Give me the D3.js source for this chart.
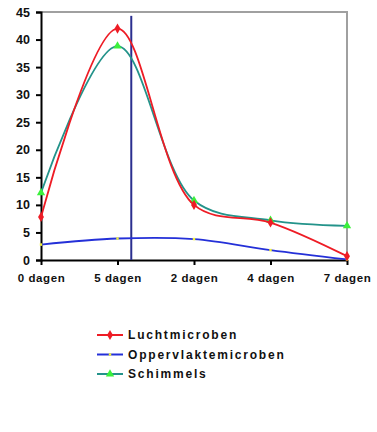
<!DOCTYPE html>
<html>
<head>
<meta charset="utf-8">
<script src="https://cdn.jsdelivr.net/npm/d3@7"></script>
<style>
  body { margin: 0; background: #fff; }
  text { font-family: "Liberation Sans", Arial, sans-serif; font-weight: bold; }
</style>
</head>
<body>
<div id="chart"></div>
<script>
// Data
const categories = ["0 dagen", "5 dagen", "2 dagen", "4 dagen", "7 dagen"];
const luchtmicroben = [7.8, 42, 10, 6.8, 0.7];
const oppervlaktemicroben = [2.8, 3.9, 3.8, 1.8, 0.1];
const schimmels = [12.2, 38.8, 10.8, 7.2, 6.2];
const yTicks = [0, 5, 10, 15, 20, 25, 30, 35, 40, 45];

const W = 377, H = 432;
const margin = { top: 12, right: 30, bottom: 172, left: 41 };
const width = W - margin.left - margin.right;
const height = H - margin.top - margin.bottom;

const svg = d3.select("#chart").append("svg")
    .attr("width", W)
    .attr("height", H);

const g = svg.append("g")
    .attr("transform", `translate(${margin.left},${margin.top})`);

const x = d3.scalePoint().domain(categories).range([0, width]).padding(0);
const y = d3.scaleLinear().domain([0, 45]).range([height, 0]);

// Frame: gray top and right borders
g.append("path")
    .attr("d", `M0,0H${width}V${height}`)
    .attr("fill", "none")
    .attr("stroke", "#a0a0a0")
    .attr("stroke-width", 2);

// Y axis
const yAxis = g.append("g")
    .call(d3.axisLeft(y).tickValues(yTicks).tickSize(5).tickPadding(6));
yAxis.select(".domain").attr("stroke", "#000").attr("stroke-width", 2);
yAxis.selectAll(".tick line").attr("stroke", "#000").attr("stroke-width", 2);
yAxis.selectAll("text").attr("font-size", 12.5).attr("fill", "#111")
    .style("font-family", "'Liberation Sans', Arial, sans-serif").style("font-weight", "bold");

// X axis
const xAxis = g.append("g")
    .attr("transform", `translate(0,${height})`)
    .call(d3.axisBottom(x).tickSize(5).tickPadding(7).tickSizeOuter(0));
xAxis.select(".domain").attr("stroke", "#000").attr("stroke-width", 2);
xAxis.selectAll(".tick line").attr("stroke", "#000").attr("stroke-width", 2);
xAxis.selectAll("text").attr("font-size", 11.5).attr("fill", "#111")
    .attr("dy", "0.9em")
    .style("letter-spacing", "0.6px")
    .style("font-family", "'Liberation Sans', Arial, sans-serif").style("font-weight", "bold");

// Vertical marker line, a little past "5 dagen"
const step = x.step();
g.append("line")
    .attr("x1", x(categories[1]) + step * 0.18)
    .attr("x2", x(categories[1]) + step * 0.18)
    .attr("y1", y(44.3))
    .attr("y2", height)
    .attr("stroke", "#2b2f8f")
    .attr("stroke-width", 2);

const series = [
    { name: "Luchtmicroben", values: luchtmicroben, line: "#ee1c25", marker: "#ee1c25", symbol: d3.symbolDiamond, size: 30 },
    { name: "Oppervlaktemicroben", values: oppervlaktemicroben, line: "#2430d8", marker: "#f2f23a", symbol: d3.symbolSquare, size: 6 },
    { name: "Schimmels", values: schimmels, line: "#23938a", marker: "#3cf03c", symbol: d3.symbolTriangle, size: 30 }
];

const line = d3.line()
    .x((d, i) => x(categories[i]))
    .y(d => y(d))
    .curve(d3.curveCatmullRom.alpha(0.5));

// Draw order: blue, teal, red on top
[series[1], series[2], series[0]].forEach(s => {
    g.append("path")
        .datum(s.values)
        .attr("fill", "none")
        .attr("stroke", s.line)
        .attr("stroke-width", 1.8)
        .attr("d", line);

    g.selectAll(null)
        .data(s.values)
        .enter()
        .append("path")
        .attr("transform", (d, i) => `translate(${x(categories[i])},${y(d)})`)
        .attr("d", d3.symbol().type(s.symbol).size(s.size))
        .attr("fill", s.marker);
});

// Legend
const legend = svg.append("g").attr("transform", "translate(97,335)");
series.forEach((s, i) => {
    const row = legend.append("g").attr("transform", `translate(0,${i * 19.5})`);
    row.append("line")
        .attr("x1", 0).attr("x2", 26)
        .attr("stroke", s.line).attr("stroke-width", 2);
    row.append("path")
        .attr("transform", "translate(13,0)")
        .attr("d", d3.symbol().type(s.symbol).size(s.size))
        .attr("fill", s.marker);
    row.append("text")
        .attr("x", 31)
        .attr("dy", "0.35em")
        .attr("font-size", 12)
        .style("letter-spacing", "1.8px")
        .attr("fill", "#111")
        .text(s.name);
});
</script>
</body>
</html>
